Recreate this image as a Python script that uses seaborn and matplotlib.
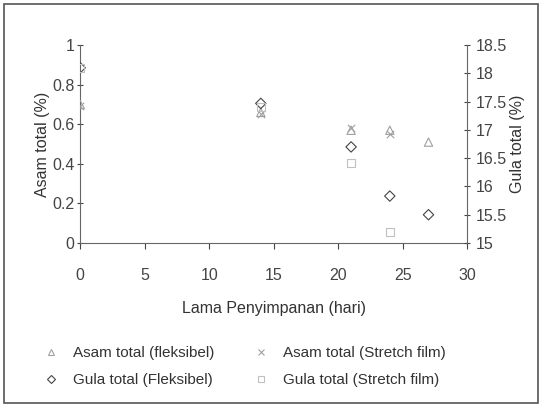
import matplotlib
matplotlib.use("Agg")
import matplotlib.pyplot as plt
import seaborn as sns
import pandas as pd
from matplotlib.lines import Line2D
from matplotlib.patches import Rectangle

sns.set_theme(style="white")
plt.rcParams['font.family'] = ['Liberation Sans', 'DejaVu Sans']

days = [0, 14, 21, 24, 27]
asam_fleksibel = [0.70, 0.66, 0.57, 0.57, 0.51]
asam_stretch_days = [0, 14, 21, 24]
asam_stretch = [0.69, 0.65, 0.58, 0.55]
gula_fleksibel = [18.1, 17.47, 16.7, 15.83, 15.5]
gula_stretch_days = [0, 14, 21, 24]
gula_stretch = [18.1, 17.4, 16.42, 15.2]

fig = plt.figure(figsize=(5.42, 4.07), dpi=100)
ax = fig.add_axes([0.148, 0.403, 0.714, 0.486])
ax2 = ax.twinx()

lgray = "#a0a0a0"

df_af = pd.DataFrame({"x": days, "y": asam_fleksibel})
df_as = pd.DataFrame({"x": asam_stretch_days, "y": asam_stretch})
df_gf = pd.DataFrame({"x": days, "y": gula_fleksibel})
df_gs = pd.DataFrame({"x": gula_stretch_days, "y": gula_stretch})

sns.scatterplot(data=df_af, x="x", y="y", ax=ax, marker="^", s=36,
                facecolor="none", edgecolor=lgray, linewidth=0.8, zorder=3)
sns.scatterplot(data=df_as, x="x", y="y", ax=ax, marker="x", s=28,
                color=lgray, linewidth=0.8, zorder=3)
sns.scatterplot(data=df_gf, x="x", y="y", ax=ax2, marker="D", s=28,
                facecolor="none", edgecolor="#444444", linewidth=0.8, zorder=3)
sns.scatterplot(data=df_gs, x="x", y="y", ax=ax2, marker="s", s=32,
                facecolor="none", edgecolor="#c0c0c0", linewidth=0.8, zorder=3)

ax.set_xlim(0, 30)
ax.set_ylim(0, 1)
ax2.set_ylim(15, 18.5)
ax.set_xticks([0, 5, 10, 15, 20, 25, 30])
ax.set_yticks([0, 0.2, 0.4, 0.6, 0.8, 1])
ax.set_yticklabels(["0", "0.2", "0.4", "0.6", "0.8", "1"])
ax2.set_yticks([15, 15.5, 16, 16.5, 17, 17.5, 18, 18.5])
ax2.set_yticklabels(["15", "15.5", "16", "16.5", "17", "17.5", "18", "18.5"])

for a in (ax, ax2):
    for s in a.spines.values():
        s.set_visible(False)
    a.tick_params(colors="#444444", labelsize=11.5, length=4, width=0.8)
ax.spines["left"].set_visible(True)
ax.spines["bottom"].set_visible(True)
ax2.spines["right"].set_visible(True)
for k in ("left", "bottom"):
    ax.spines[k].set_color("#666666")
    ax.spines[k].set_linewidth(0.8)
ax2.spines["right"].set_color("#666666")
ax2.spines["right"].set_linewidth(0.8)
ax.tick_params(axis="y", left=True, direction="inout", pad=2)
ax.tick_params(axis="x", bottom=True, direction="out", pad=14)
ax2.tick_params(axis="y", right=True, direction="inout", pad=4)

ax.set_xlabel("Lama Penyimpanan (hari)", fontsize=11.5, color="#333333", labelpad=13)
ax.set_ylabel("Asam total (%)", fontsize=11.5, color="#333333", labelpad=2)
ax2.set_ylabel("Gula total (%)", fontsize=11.5, color="#333333", labelpad=2)

handles = [
    Line2D([], [], linestyle="none", marker="^", markersize=5, markerfacecolor="none",
           markeredgecolor=lgray, markeredgewidth=0.8, label="Asam total (fleksibel)"),
    Line2D([], [], linestyle="none", marker="D", markersize=4.5, markerfacecolor="none",
           markeredgecolor="#444444", markeredgewidth=0.8, label="Gula total (Fleksibel)"),
    Line2D([], [], linestyle="none", marker="x", markersize=5,
           markeredgecolor=lgray, markeredgewidth=0.8, label="Asam total (Stretch film)"),
    Line2D([], [], linestyle="none", marker="s", markersize=4.5, markerfacecolor="none",
           markeredgecolor="#c0c0c0", markeredgewidth=0.8, label="Gula total (Stretch film)"),
]
fig.legend(handles=handles, loc="lower left", bbox_to_anchor=(0.055, 0.015), ncol=2,
           frameon=False, fontsize=11, handletextpad=0.9, columnspacing=2.6,
           labelspacing=0.85, handlelength=1.0, labelcolor="#333333")

fig.patches.append(Rectangle((0.008, 0.01), 0.985, 0.98, transform=fig.transFigure,
                             fill=False, edgecolor="#555555", linewidth=1.2))

fig.savefig("out.png", dpi=100)
